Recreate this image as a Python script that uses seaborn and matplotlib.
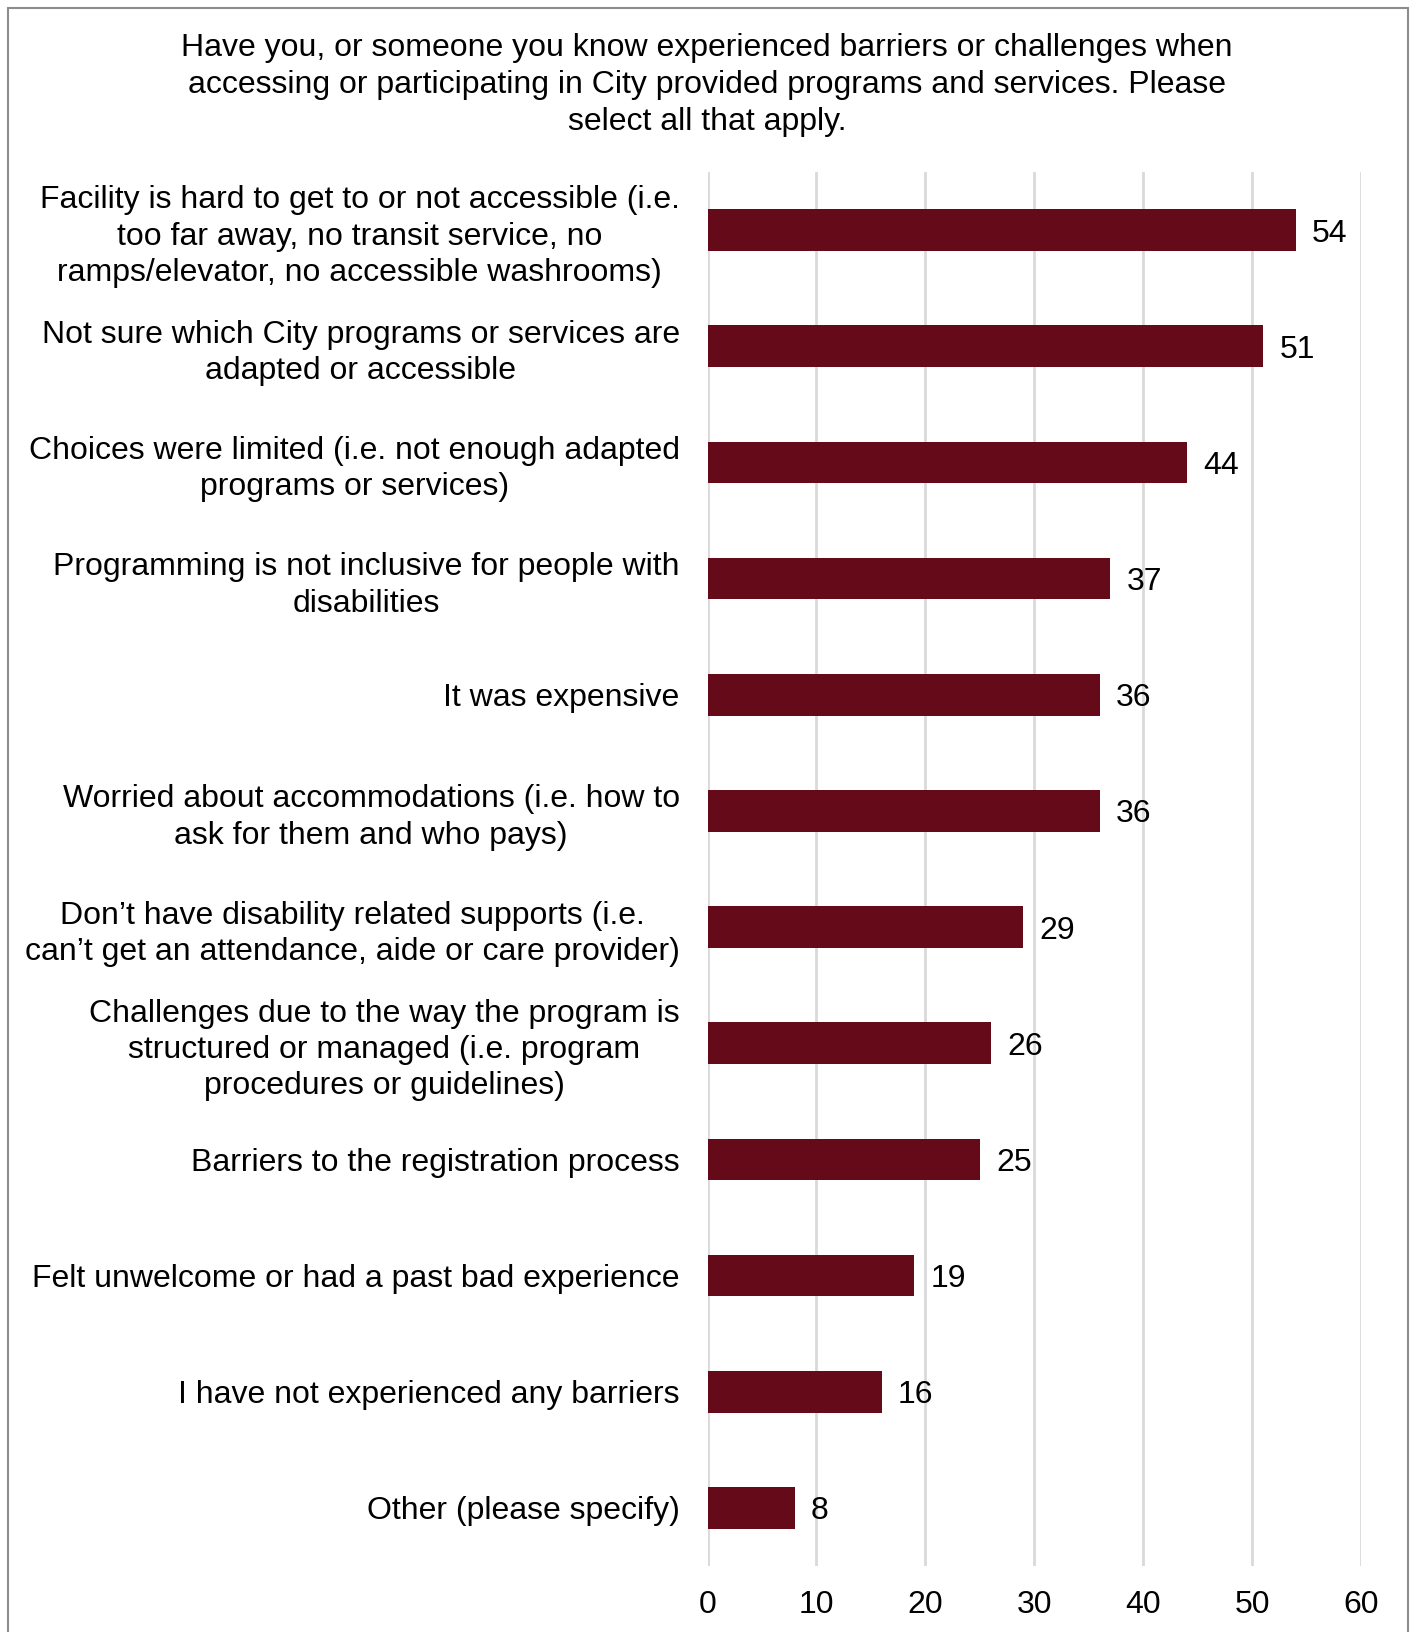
import matplotlib
matplotlib.use("Agg")
import matplotlib.pyplot as plt
from matplotlib.patches import Rectangle
import seaborn as sns
import pandas as pd

categories = [
    "Facility is hard to get to or not accessible (i.e.\ntoo far away, no transit service, no\nramps/elevator, no accessible washrooms)",
    "Not sure which City programs or services are\nadapted or accessible",
    "Choices were limited (i.e. not enough adapted\nprograms or services)",
    "Programming is not inclusive for people with\ndisabilities",
    "It was expensive",
    "Worried about accommodations (i.e. how to\nask for them and who pays)",
    "Don\u2019t have disability related supports (i.e.\ncan\u2019t get an attendance, aide or care provider)",
    "Challenges due to the way the program is\nstructured or managed (i.e. program\nprocedures or guidelines)",
    "Barriers to the registration process",
    "Felt unwelcome or had a past bad experience",
    "I have not experienced any barriers",
    "Other (please specify)",
]
counts = [54, 51, 44, 37, 36, 36, 29, 26, 25, 19, 16, 8]
x_ticks = [0, 10, 20, 30, 40, 50, 60]
title = ("Have you, or someone you know experienced barriers or challenges when\n"
         "accessing or participating in City provided programs and services. Please\n"
         "select all that apply.")

sns.set_theme(style="white")
plt.rcParams["font.family"] = ["Liberation Sans", "DejaVu Sans"]

df = pd.DataFrame({"category": categories, "count": counts})

FS = 23
W, H = 1414, 1632
fig = plt.figure(figsize=(W / 100, H / 100), dpi=100)
ax = fig.add_axes([707.5 / W, 1 - 1566 / H, (1361 - 707.5) / W, 1394 / H])

bar_color = "#650a19"
sns.barplot(data=df, x="count", y="category", orient="h", color=bar_color,
            saturation=1, width=0.36, ax=ax, edgecolor="none")

ax.set_xlim(0, 60)
ax.set_ylim(len(categories) - 0.5, -0.5)
ax.set_xticks(x_ticks)
ax.set_xticklabels([str(t) for t in x_ticks], fontsize=FS, color="black")
ax.set_xlabel("")
ax.set_ylabel("")
ax.xaxis.grid(True, color="#d9d9d9", linewidth=2)
ax.yaxis.grid(False)
ax.set_axisbelow(True)
for s in ax.spines.values():
    s.set_visible(False)
ax.tick_params(axis="both", length=0)
ax.tick_params(axis="y", pad=20)
ax.tick_params(axis="x", pad=17)
for lbl in ax.get_yticklabels():
    lbl.set_fontsize(FS)
    lbl.set_color("black")
    lbl.set_multialignment("center")
    lbl.set_linespacing(1.28)

for i, v in enumerate(counts):
    ax.text(v + 1.5, i, str(v), va="center_baseline", ha="left", fontsize=FS,
            color="black")

fig.text(0.5, 1 - 85 / H, title, ha="center", va="center", fontsize=FS,
         color="black", multialignment="center", linespacing=1.3)

fig.patches.append(Rectangle((8 / W, -0.01), (1408 - 8) / W, 1 - 8 / H + 0.01,
                             transform=fig.transFigure, fill=False,
                             edgecolor="#8c8c8c", linewidth=1.5))

fig.savefig("out.png", dpi=100, facecolor="white")
